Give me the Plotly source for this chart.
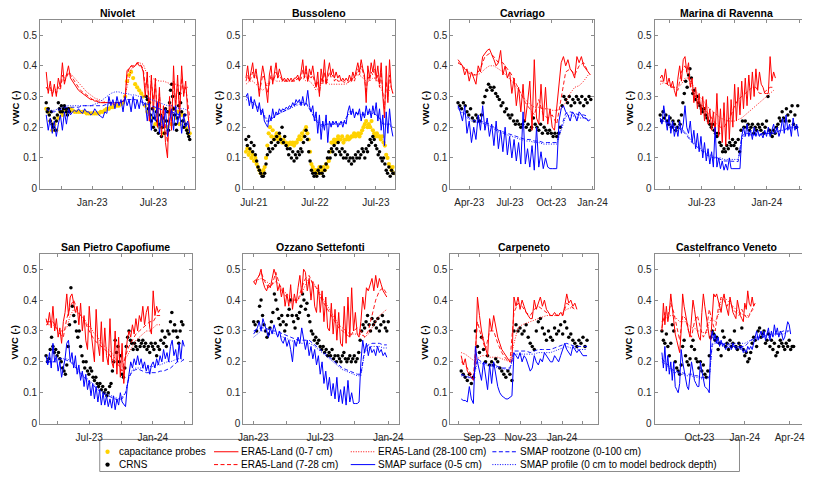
import pandas as pd
import plotly.graph_objects as go

W, H = 816, 478

# ======================= DATA =======================
# --- Nivolet (start 2022-08-17) ---
niv_start = "2022-08-17"
niv_cap = [0.26,0.25,0.22,0.19,0.21,0.19,0.23,0.25,0.24,0.26,0.25,0.26,0.26,
           0.255,0.25,0.25,0.25,0.25,0.25,0.25,0.245,0.245,0.245,0.245,0.245,0.245,0.245,0.25,0.25,
           0.255,0.26,0.26,0.265,0.265,0.27,0.27,0.27,0.275,0.28,0.30,
           0.35,0.37,0.38,0.36,0.34,0.33,0.32,0.31,0.30,
           0.27,0.25,0.28,0.23,0.26,0.21,0.24,0.20,0.22,0.18,0.22,0.20,
           0.25,0.21,0.26,0.23,0.25,0.21,0.24,0.22,0.20,0.19,0.18]
niv_crns_a = [0.28,0.25,0.26,0.24,0.22,0.25,0.21,0.20,0.23,0.19,0.22,0.24,0.28,0.26,0.25,0.27,
              0.25,0.26,0.27,0.26,0.25,0.24,0.26,0.25]
niv_crns_b_start = "2023-06-10"
niv_crns_b = [0.30,0.29,0.26,0.28,0.24,0.22,0.26,0.20,0.23,0.19,0.25,0.22,0.18,0.21,0.24,0.17,
              0.20,0.23,0.18,0.26,0.22,0.25,0.19,0.28,0.32,0.34,0.30,0.26,0.24,0.21,0.19,0.23,
              0.27,0.31,0.28,0.25,0.22,0.20,0.24,0.21,0.19,0.18,0.17,0.16]
niv_e07 = [0.38,0.31,0.35,0.30,0.34,0.30,0.36,0.33,0.41,0.34,0.37,0.40,0.36,0.35,0.34,0.33,0.32,
           0.315,0.31,0.305,0.30,0.295,0.29,0.29,0.285,0.285,0.28,0.28,0.28,0.28,0.28,0.28,0.28,
           0.275,0.275,0.28,0.28,0.28,0.285,0.29,0.385,0.39,0.40,0.395,0.40,0.41,0.40,0.40,0.38,
           0.30,0.38,0.22,0.37,0.25,0.36,0.20,0.33,0.17,0.27,0.15,0.10,0.30,0.19,0.40,0.25,0.37,
           0.23,0.40,0.30,0.35,0.25,0.19]
niv_e728 = [0.33,0.32,0.33,0.31,0.32,0.31,0.33,0.32,0.37,0.35,0.36,0.38,0.37,
            0.36,0.35,0.34,0.33,0.32,0.315,0.31,0.305,0.30,0.295,0.29,0.29,0.285,0.285,0.28,0.28,
            0.28,0.28,0.28,0.28,0.28,0.28,0.28,0.28,0.28,0.285,0.29,
            0.37,0.39,0.40,0.40,0.40,0.41,0.41,0.40,0.39,
            0.33,0.36,0.27,0.35,0.29,0.34,0.25,0.31,0.22,0.26,0.20,0.15,0.26,0.22,0.35,0.28,0.34,
            0.27,0.36,0.31,0.33,0.28,0.23]
niv_e28100 = [0.33,0.32,0.32,0.33,0.35,0.37,0.375,0.36,0.345,0.33,0.315,0.305,0.295,0.29,0.285,
              0.28,0.28,0.28,0.28,0.28,0.33,0.39,0.40,0.41,0.405,0.37,0.36,0.355,0.35,0.35,0.345,
              0.34,0.34,0.335,0.33,0.33]
niv_ss = [0.24,0.19,0.23,0.18,0.22,0.17,0.21,0.24,0.19,0.25,0.21,0.26,0.24,
          0.25,0.255,0.25,0.26,0.25,0.245,0.26,0.25,0.25,0.24,0.245,0.26,
          0.25,0.24,0.235,0.23,0.25,0.245,0.30,0.27,0.29,0.26,0.30,0.27,0.29,0.25,0.30,0.27,
          0.29,0.25,0.30,0.26,0.29,0.26,0.30,0.27,0.28,
          0.22,0.28,0.19,0.26,0.22,0.28,0.18,0.24,0.20,0.26,0.17,0.22,
          0.26,0.19,0.27,0.21,0.25,0.18,0.24,0.20,0.22,0.18]
niv_rz = [0.26,0.25,0.25,0.255,0.26,0.265,0.265,0.265,0.265,0.27,0.27,0.27,0.27,0.27,0.27,0.275,
          0.28,0.28,0.28,0.285,0.29,0.29,0.29,0.285,0.28,0.275,0.27,0.265,0.26,0.255,0.25,0.25,
          0.245,0.24,0.24,0.24]
niv_pr = [0.26,0.255,0.255,0.26,0.265,0.27,0.27,0.27,0.27,0.27,0.27,0.27,0.275,0.28,0.29,0.30,
          0.31,0.315,0.315,0.31,0.31,0.305,0.305,0.30,0.30,0.295,0.29,0.285,0.28,0.275,0.27,0.27,
          0.265,0.26,0.26,0.255]

# --- Bussoleno (start 2021-05-14) ---
bus_start = "2021-05-14"
bus_cap = [0.12,0.13,0.11,0.12,0.10,0.11,0.09,0.10, 0.08,0.07,0.06,0.05,0.05,0.06,0.07,
           0.10,0.14,0.18,0.20,0.17,0.19,0.16,0.17, 0.18,0.16,0.17,0.16,0.15,0.16,0.15,0.15,0.14,
           0.145,0.15,0.145,0.15,0.14,0.15,0.15,0.16, 0.17,0.16,0.18,0.17,0.19,0.20,0.18,0.16,0.12,
           0.08,0.07,0.06,0.06,0.05,0.06,0.07,0.05,0.06,0.07,0.06,0.08,0.07,0.09,0.12,0.15,
           0.15,0.16,0.15,0.16,0.17,0.16,0.16,0.17,0.15,0.16,0.16,0.17,0.16,0.165,0.17,
           0.17,0.18,0.17,0.175,0.18,0.17,0.18,0.19,0.20,0.21,0.22,0.20,
           0.21,0.20,0.22,0.19,0.18,0.17,0.18,0.17,0.17,0.16,0.17,0.15,0.14,
           0.11,0.10,0.08,0.07,0.06,0.07,0.05]
bus_crns = [0.16,0.14,0.17,0.13,0.15,0.12,0.14,0.11, 0.09,0.07,0.06,0.05,0.04,0.04,0.05,
            0.08,0.11,0.13,0.12,0.15,0.13,0.16,0.14, 0.17,0.15,0.18,0.16,0.20,0.15,0.17,0.14,0.13,
            0.11,0.13,0.10,0.12,0.09,0.11,0.10,0.12, 0.11,0.13,0.12,0.15,0.17,0.19,0.16,0.12,0.09,
            0.06,0.05,0.04,0.05,0.04,0.06,0.05,0.07,0.05,0.04,0.06,0.08,0.10,0.12,0.10,0.13,
            0.12,0.14,0.11,0.13,0.15,0.12,0.11,0.13,0.10,0.12,0.10,0.11,0.09,0.10,0.08,
            0.10,0.09,0.11,0.10,0.12,0.10,0.11,0.13,0.12,0.10,0.13,0.12,
            0.14,0.16,0.15,0.17,0.16,0.14,0.13,0.11,0.12,0.10,0.09,0.10,0.08,
            0.06,0.05,0.07,0.04,0.06,0.05,0.05]
bus_e07 = [0.36,0.40,0.35,0.38,0.41,0.36,0.39,0.35,0.30,0.36,0.40,0.37,0.33,0.28,0.37,0.40,0.34,
           0.38,0.41,0.36,0.39,0.37,0.35,0.36,0.35,0.36,0.35,0.36,0.35,0.36,0.36,0.37,0.35,0.38,
           0.42,0.36,0.40,0.35,0.39,0.37,0.40,0.36,0.33,0.38,0.30,0.39,0.35,0.42,0.34,0.38,0.41,
           0.37,0.39,0.36,0.38,0.36,0.37,0.35,0.36,0.35,0.36,0.35,0.37,0.35,0.38,0.36,0.39,0.41,
           0.38,0.42,0.39,0.37,0.28,0.40,0.36,0.41,0.38,0.42,0.36,0.40,0.34,0.41,0.30,0.23,0.40,
           0.28,0.42,0.33,0.31]
bus_e728 = [0.35,0.37,0.35,0.36,0.38,0.36,0.37,0.35,0.32,0.34,0.37,0.36,0.34,0.31,0.34,0.37,0.35,
            0.36,0.38,0.36,0.37,0.36,0.35,0.35,0.35,0.35,0.35,0.35,0.35,0.35,0.35,0.36,0.35,0.36,
            0.39,0.36,0.38,0.35,0.37,0.36,0.37,0.35,0.33,0.35,0.31,0.36,0.34,0.38,0.34,0.36,0.38,
            0.36,0.37,0.35,0.36,0.35,0.35,0.35,0.35,0.345,0.35,0.345,0.35,0.345,0.36,0.35,0.37,
            0.39,0.37,0.40,0.38,0.36,0.31,0.37,0.35,0.38,0.37,0.39,0.35,0.37,0.33,0.38,0.31,0.26,
            0.35,0.29,0.37,0.33,0.31]
bus_e28100 = [0.34,0.35,0.35,0.34,0.33,0.32,0.33,0.35,0.36,0.35,0.35,0.35,0.35,0.35,0.35,0.355,
              0.36,0.36,0.35,0.35,0.34,0.32,0.33,0.35,0.35,0.34,0.34,0.34,0.34,0.34,0.34,0.35,
              0.36,0.37,0.37,0.36,0.35,0.35,0.36,0.36,0.34,0.31,0.30,0.32,0.33]
bus_ss = [0.30,0.31,0.27,0.30,0.26,0.29,0.27,0.25,0.28,0.24,0.26,0.22,0.21,0.20,0.24,0.22,0.26,
          0.23,0.25,0.24,0.26,0.25,0.26,0.255,0.265,0.26,0.27,0.265,0.28,0.27,0.29,0.28,0.29,0.27,
          0.30,0.27,0.28,0.32,0.27,0.25,0.27,0.22,0.25,0.18,0.24,0.16,0.22,0.19,0.24,0.15,0.22,
          0.20,0.22,0.21,0.22,0.20,0.21,0.22,0.20,0.22,0.21,0.25,0.27,0.24,0.26,0.23,0.25,0.24,
          0.26,0.22,0.25,0.23,0.27,0.24,0.26,0.23,0.27,0.24,0.28,0.22,0.26,0.19,0.24,0.14,0.25,
          0.18,0.26,0.20,0.17]
bus_rz = [0.30,0.29,0.28,0.27,0.26,0.25,0.22,0.22,0.23,0.24,0.245,0.25,0.255,0.26,0.27,0.275,
          0.28,0.28,0.28,0.26,0.24,0.22,0.21,0.20,0.21,0.21,0.21,0.21,0.21,0.21,0.23,0.25,0.25,
          0.245,0.245,0.24,0.245,0.25,0.25,0.24,0.23,0.21,0.21,0.21,0.20]
bus_pr = [0.29,0.285,0.28,0.27,0.26,0.25,0.23,0.225,0.23,0.24,0.245,0.25,0.255,0.26,0.265,0.27,
          0.275,0.275,0.275,0.26,0.245,0.225,0.215,0.205,0.21,0.21,0.21,0.21,0.215,0.215,0.23,
          0.245,0.245,0.24,0.24,0.24,0.24,0.245,0.245,0.24,0.23,0.215,0.21,0.205,0.20]

# --- Cavriago (start 2023-03-07) ---
cav_start = "2023-03-07"
cav_crns = [0.28,0.27,0.26,0.28,0.27,0.25,0.24,0.26,0.23,0.22,0.24,0.23,0.22,0.24,0.28,0.30,0.32,
            0.34,0.33,0.32,0.33,0.31,0.30,0.29,0.27,0.28,0.25,0.26,0.24,0.23,0.24,0.22,0.21,0.22,
            0.21,0.20,0.21,0.22,0.20,0.21,0.19,0.20,0.23,0.21,0.20,0.19,0.21,0.18,0.20,0.19,0.18,
            0.19,0.18,0.17,0.18,0.17,0.18,0.20,0.27,0.30,0.29,0.28,0.30,0.27,0.29,0.28,0.30,0.29,
            0.28,0.30,0.27,0.29,0.28,0.30,0.29]
cav_e07 = [0.42,0.41,0.40,0.37,0.39,0.35,0.38,0.36,0.34,0.40,0.38,0.43,0.44,0.45,0.455,0.44,0.42,
           0.40,0.41,0.45,0.37,0.40,0.36,0.38,0.31,0.36,0.27,0.33,0.25,0.34,0.22,0.28,0.35,0.19,
           0.42,0.23,0.21,0.34,0.22,0.33,0.21,0.26,0.20,0.19,0.27,0.35,0.41,0.43,0.40,0.42,0.39,
           0.38,0.36,0.43,0.41,0.43,0.40,0.39,0.38,0.37]
cav_e728 = [0.41,0.40,0.38,0.37,0.37,0.39,0.43,0.44,0.43,0.41,0.41,0.39,0.37,0.34,0.31,0.28,0.26,
            0.24,0.29,0.24,0.23,0.24,0.21,0.30,0.38,0.39,0.37,0.40,0.41,0.38]
cav_e28100 = [0.41,0.40,0.385,0.375,0.37,0.375,0.39,0.40,0.40,0.39,0.38,0.365,0.35,0.33,0.31,0.29,
              0.275,0.265,0.265,0.26,0.26,0.255,0.255,0.26,0.28,0.31,0.33,0.335,0.35,0.37]
cav_ss = [0.27,0.25,0.22,0.27,0.18,0.22,0.15,0.20,0.16,0.24,0.19,0.27,0.19,0.23,0.17,0.21,0.14,0.22,
          0.13,0.19,0.12,0.20,0.11,0.17,0.10,0.16,0.09,0.15,0.08,0.25,0.08,0.13,0.07,0.14,0.06,0.20,
          0.07,0.12,0.065,0.10,0.07,0.065,0.065,0.065,0.065,0.22,0.26,0.27,0.25,0.24,0.22,0.25,0.24,
          0.22,0.25,0.24,0.23,0.23,0.22,0.225]
cav_rz = [0.265,0.25,0.235,0.225,0.22,0.22,0.215,0.21,0.20,0.19,0.185,0.18,0.175,0.17,0.165,0.16,
          0.16,0.155,0.155,0.15,0.15,0.15,0.15,0.20,0.245,0.25,0.245,0.24,0.24,0.235]
cav_pr = [0.26,0.245,0.23,0.22,0.215,0.215,0.21,0.205,0.195,0.185,0.18,0.175,0.17,0.165,0.16,0.155,
          0.155,0.15,0.15,0.145,0.145,0.145,0.145,0.19,0.235,0.24,0.235,0.23,0.23,0.225]

# --- Marina di Ravenna (start 2023-03-06) ---
mar_start = "2023-03-06"
mar_crns = [0.24,0.22,0.25,0.23,0.24,0.22,0.21,0.23,0.20,0.22, 0.21,0.19,0.20,0.22,0.21,0.24,0.28,
            0.31,0.35,0.33, 0.37,0.39,0.36,0.31,0.32,0.29,0.30,0.28,0.27,0.26, 0.25,0.26,0.24,0.23,
            0.22,0.21,0.20,0.21,0.19,0.18, 0.17,0.18,0.15,0.14,0.12,0.13,0.12,0.14,0.13,0.15,
            0.14,0.16,0.14,0.15,0.13,0.16,0.12,0.19,0.22,0.20, 0.22,0.20,0.21,0.19,0.20,0.21,0.18,
            0.20,0.19,0.21, 0.20,0.19,0.21,0.18,0.20,0.22,0.30,0.19,0.18,0.17, 0.19,0.18,0.20,0.21,
            0.23,0.22,0.25,0.23,0.22,0.26, 0.24,0.22,0.25,0.27,0.21,0.24,0.20,0.27]
mar_e07 = [0.36,0.37,0.35,0.39,0.34,0.36,0.33,0.35,0.32,0.30,0.36,0.40,0.35,0.42,0.43,0.38,0.41,0.33,
           0.36,0.28,0.33,0.26,0.31,0.24,0.30,0.22,0.29,0.21,0.26,0.19,0.25,0.18,0.31,0.17,0.26,0.15,
           0.28,0.14,0.30,0.16,0.29,0.20,0.34,0.22,0.33,0.24,0.35,0.26,0.36,0.27,0.37,0.29,0.38,0.30,
           0.39,0.32,0.38,0.34,0.33,0.31,0.31,0.31,0.43,0.35,0.38,0.36]
mar_e728 = [0.35,0.35,0.34,0.33,0.33,0.32,0.38,0.40,0.36,0.32,0.30,0.28,0.27,0.25,0.24,0.22,0.21,
            0.20,0.20,0.22,0.24,0.27,0.29,0.30,0.31,0.32,0.33,0.33,0.31,0.31,0.32,0.33,0.33]
mar_e28100 = [0.34,0.345,0.34,0.335,0.33,0.33,0.34,0.36,0.36,0.34,0.32,0.30,0.29,0.27,0.26,0.25,
              0.24,0.23,0.225,0.22,0.22,0.22,0.225,0.23,0.24,0.25,0.26,0.27,0.28,0.29,0.30,0.31,0.32]
mar_ss = [0.23,0.21,0.27,0.22,0.19,0.24,0.18,0.22,0.17,0.20,0.17,0.22,0.18,0.21,0.27,0.20,0.18,0.22,
          0.15,0.19,0.13,0.18,0.12,0.17,0.10,0.15,0.09,0.13,0.08,0.12,0.07,0.20,0.07,0.10,0.065,0.09,
          0.06,0.08,0.06,0.10,0.065,0.065,0.065,0.065,0.065,0.065,0.17,0.20,0.17,0.21,0.17,0.19,0.16,
          0.20,0.17,0.19,0.17,0.18,0.165,0.19,0.17,0.20,0.17,0.19,0.21,0.18,0.20,0.17,0.19,0.23,0.18,
          0.24,0.19,0.21,0.17,0.23,0.19,0.21,0.17]
mar_rz = [0.22,0.22,0.215,0.21,0.20,0.20,0.19,0.18,0.165,0.15,0.14,0.13,0.12,0.11,0.105,0.10,0.10,
          0.095,0.09,0.09,0.09,0.088,0.088,0.17,0.18,0.18,0.175,0.175,0.175,0.18,0.18,0.18,0.18,
          0.185,0.19,0.19,0.20,0.20,0.20,0.20]
mar_pr = [0.225,0.22,0.215,0.21,0.205,0.20,0.195,0.185,0.17,0.155,0.145,0.135,0.125,0.115,0.11,
          0.105,0.10,0.10,0.095,0.095,0.095,0.095,0.095,0.16,0.175,0.175,0.175,0.175,0.175,0.18,
          0.18,0.18,0.185,0.185,0.19,0.19,0.195,0.195,0.20,0.20]

# --- San Pietro Capofiume (start 2023-02-26) ---
spc_start = "2023-02-26"
spc_crns = [0.22,0.20,0.21,0.24,0.28,0.25,0.23,0.24,0.22,0.23, 0.21,0.20,0.18,0.17,0.16,0.19,0.25,
            0.32,0.44,0.38, 0.35,0.33,0.30,0.28,0.30,0.25,0.22,0.20,0.18,0.20, 0.17,0.16,0.18,0.17,
            0.15,0.14,0.15,0.13,0.12,0.13, 0.11,0.12,0.10,0.11,0.09,0.10,0.12,0.13,0.17,0.20,
            0.27,0.23,0.25,0.20,0.22,0.16,0.15,0.18,0.25,0.28, 0.30,0.27,0.26,0.24,0.26,0.25,0.24,
            0.27,0.25,0.26, 0.27,0.25,0.26,0.24,0.25,0.23,0.26,0.25,0.24,0.26, 0.22,0.25,0.24,0.27,
            0.30,0.26,0.28,0.25,0.30,0.29, 0.33,0.36,0.30,0.32,0.30,0.28,0.26,0.30,0.33,0.32]
spc_e07 = [0.34,0.32,0.36,0.31,0.38,0.30,0.34,0.28,0.31,0.26,0.33,0.36,0.42,0.35,0.41,0.42,0.39,0.36,
           0.38,0.32,0.39,0.30,0.35,0.27,0.24,0.38,0.30,0.24,0.20,0.37,0.26,0.22,0.33,0.20,0.31,0.22,
           0.19,0.34,0.20,0.18,0.30,0.16,0.28,0.15,0.26,0.13,0.22,0.27,0.30,0.28,0.32,0.29,0.34,0.30,
           0.35,0.33,0.38,0.32,0.36,0.38,0.31,0.29,0.43,0.35,0.38,0.36,0.37]
spc_e728 = [0.33,0.33,0.33,0.31,0.29,0.28,0.34,0.38,0.40,0.37,0.35,0.34,0.31,0.29,0.27,0.26,0.25,
            0.24,0.23,0.21,0.20,0.19,0.17,0.22,0.25,0.27,0.29,0.30,0.31,0.32,0.33,0.33,0.35,0.35]
spc_e28100 = [0.32,0.32,0.32,0.31,0.30,0.30,0.31,0.35,0.37,0.36,0.35,0.34,0.32,0.31,0.29,0.28,0.26,
              0.25,0.24,0.23,0.21,0.20,0.20,0.21,0.23,0.25,0.27,0.28,0.29,0.30,0.30,0.31,0.32,0.32]
spc_ss = [0.22,0.19,0.23,0.18,0.26,0.20,0.22,0.17,0.20,0.15,0.18,0.21,0.26,0.27,0.20,0.23,0.18,0.22,
          0.16,0.19,0.14,0.17,0.12,0.16,0.11,0.14,0.09,0.13,0.08,0.12,0.07,0.11,0.06,0.10,0.06,0.09,
          0.055,0.08,0.05,0.09,0.045,0.08,0.06,0.10,0.07,0.06,0.055,0.12,0.17,0.20,0.18,0.21,0.19,
          0.22,0.19,0.21,0.18,0.20,0.17,0.19,0.16,0.19,0.20,0.18,0.21,0.19,0.22,0.20,0.24,0.21,0.23,
          0.20,0.25,0.27,0.22,0.24,0.20,0.26,0.21,0.27,0.25]
spc_rz = [0.20,0.20,0.20,0.20,0.21,0.21,0.205,0.20,0.19,0.175,0.16,0.15,0.14,0.13,0.12,0.11,0.10,
          0.095,0.09,0.085,0.08,0.075,0.08,0.10,0.15,0.17,0.175,0.175,0.17,0.165,0.165,0.165,0.165,
          0.17,0.17,0.175,0.18,0.19,0.20,0.20,0.21]
spc_pr = [0.20,0.20,0.20,0.205,0.21,0.21,0.21,0.205,0.195,0.18,0.165,0.155,0.145,0.135,0.125,0.115,
          0.105,0.10,0.095,0.09,0.085,0.08,0.085,0.10,0.15,0.175,0.18,0.18,0.18,0.18,0.185,0.185,
          0.19,0.19,0.195,0.20,0.20,0.205,0.21,0.21,0.205]

# --- Ozzano Settefonti (start 2023-01-02) ---
ozz_start = "2023-01-02"
ozz_crns = [0.33,0.32,0.30,0.33,0.38,0.40,0.35,0.32,0.30,0.28, 0.29,0.31,0.33,0.36,0.42,0.40,0.37,
            0.34,0.32,0.35, 0.33,0.30,0.32,0.35,0.37,0.40,0.35,0.33,0.31,0.35, 0.34,0.36,0.38,0.42,
            0.40,0.37,0.39,0.35,0.33,0.30, 0.29,0.27,0.28,0.26,0.27,0.25,0.24,0.25,0.23,0.24,
            0.22,0.23,0.22,0.24,0.21,0.22,0.20,0.22,0.21,0.20, 0.22,0.23,0.21,0.20,0.21,0.22,0.20,
            0.21,0.22,0.20, 0.21,0.23,0.27,0.30,0.32,0.31,0.33,0.35,0.32,0.30, 0.34,0.32,0.33,0.31,
            0.34,0.30,0.32,0.35,0.33,0.31,0.30,0.33]
ozz_e07 = [0.46,0.45,0.47,0.48,0.50,0.46,0.44,0.43,0.45,0.44,0.47,0.50,0.48,0.43,0.45,0.41,0.44,0.38,
           0.42,0.38,0.45,0.37,0.42,0.39,0.44,0.48,0.42,0.50,0.49,0.43,0.47,0.40,0.46,0.38,0.36,0.45,
           0.36,0.43,0.33,0.41,0.31,0.30,0.39,0.29,0.37,0.27,0.36,0.26,0.25,0.38,0.26,0.41,0.28,0.44,
           0.30,0.36,0.29,0.28,0.33,0.41,0.37,0.44,0.43,0.45,0.47,0.43,0.48,0.44,0.47,0.45,0.43,0.42,
           0.41]
ozz_e728 = [0.46,0.47,0.49,0.46,0.44,0.45,0.49,0.45,0.42,0.41,0.39,0.40,0.40,0.44,0.47,0.48,0.45,
            0.44,0.41,0.39,0.37,0.35,0.33,0.31,0.30,0.29,0.28,0.30,0.31,0.30,0.28,0.30,0.35,0.40,
            0.43,0.44,0.42]
ozz_e28100 = [0.46,0.465,0.47,0.465,0.455,0.45,0.46,0.45,0.43,0.42,0.41,0.40,0.40,0.42,0.45,0.47,
              0.46,0.44,0.42,0.40,0.38,0.36,0.34,0.32,0.31,0.30,0.29,0.29,0.29,0.29,0.28,0.29,0.31,
              0.33,0.35,0.36,0.37]
ozz_ss = [0.29,0.30,0.31,0.33,0.30,0.34,0.32,0.30,0.28,0.31,0.29,0.32,0.30,0.28,0.30,0.27,0.26,0.28,
          0.25,0.27,0.24,0.20,0.27,0.25,0.28,0.26,0.31,0.27,0.24,0.27,0.22,0.25,0.21,0.24,0.19,0.22,
          0.16,0.20,0.13,0.17,0.11,0.15,0.09,0.13,0.08,0.15,0.07,0.11,0.065,0.12,0.06,0.14,0.07,0.10,
          0.065,0.065,0.065,0.07,0.20,0.27,0.23,0.26,0.22,0.25,0.23,0.24,0.22,0.25,0.23,0.24,0.22,
          0.23,0.215]
ozz_rz = [0.30,0.305,0.31,0.31,0.305,0.30,0.30,0.295,0.29,0.285,0.28,0.275,0.27,0.27,0.27,0.27,0.26,
          0.25,0.24,0.23,0.22,0.21,0.20,0.19,0.18,0.175,0.17,0.165,0.16,0.16,0.24,0.255,0.26,0.26,
          0.26,0.255,0.255]
ozz_pr = [0.28,0.29,0.30,0.30,0.30,0.295,0.29,0.285,0.28,0.275,0.27,0.265,0.26,0.26,0.26,0.26,0.255,
          0.245,0.235,0.225,0.215,0.205,0.195,0.185,0.175,0.17,0.165,0.16,0.155,0.155,0.23,0.245,
          0.25,0.25,0.25,0.245,0.245]

# --- Carpeneto (start 2023-08-05) ---
car_start = "2023-08-05"
car_crns = [0.17,0.16,0.15,0.14,0.16,0.13,0.15,0.30,0.25,0.23, 0.28,0.24,0.20,0.22,0.19,0.20,0.19,
            0.21,0.20,0.18, 0.17,0.16,0.15,0.17,0.16,0.14,0.30,0.32,0.30,0.31, 0.29,0.30,0.32,0.28,
            0.26,0.25,0.24,0.30,0.33,0.34, 0.31,0.29,0.27,0.30,0.28,0.27,0.31,0.29,0.30,0.32,
            0.29,0.33,0.31,0.28,0.29,0.27,0.26,0.25,0.27,0.26, 0.28,0.25,0.27]
car_e07 = [0.22,0.19,0.21,0.17,0.16,0.15,0.14,0.20,0.41,0.35,0.30,0.27,0.24,0.22,0.34,0.30,0.35,0.31,
           0.28,0.26,0.24,0.23,0.22,0.21,0.20,0.20,0.41,0.38,0.41,0.37,0.40,0.38,0.36,0.35,0.34,0.34,
           0.40,0.37,0.39,0.41,0.38,0.40,0.37,0.36,0.35,0.35,0.36,0.35,0.35,0.36,0.35,0.38,0.42,0.39,
           0.40,0.38,0.39,0.37]
car_e728 = [0.20,0.19,0.17,0.15,0.33,0.28,0.24,0.30,0.30,0.26,0.23,0.21,0.20,0.36,0.39,0.38,0.36,
            0.35,0.37,0.38,0.37,0.36,0.35,0.35,0.35,0.35,0.39,0.38,0.37]
car_e28100 = [0.23,0.225,0.215,0.205,0.21,0.22,0.22,0.215,0.215,0.215,0.21,0.205,0.20,0.26,0.31,
              0.32,0.325,0.33,0.335,0.34,0.345,0.35,0.35,0.35,0.355,0.36,0.37,0.375,0.375]
car_ss = [0.08,0.075,0.075,0.07,0.12,0.08,0.065,0.25,0.20,0.17,0.14,0.20,0.15,0.11,0.19,0.13,0.20,
          0.16,0.12,0.10,0.09,0.085,0.08,0.08,0.085,0.09,0.23,0.22,0.21,0.23,0.20,0.22,0.21,0.19,
          0.17,0.18,0.22,0.20,0.19,0.21,0.20,0.23,0.22,0.21,0.20,0.20,0.22,0.21,0.20,0.22,0.24,0.26,
          0.24,0.23,0.22,0.25,0.24,0.23,0.24,0.23,0.22,0.22,0.22]
car_rz = [0.16,0.155,0.15,0.15,0.21,0.20,0.195,0.19,0.19,0.185,0.18,0.18,0.18,0.235,0.235,0.235,
          0.235,0.23,0.235,0.24,0.24,0.24,0.24,0.245,0.25,0.255,0.26,0.255,0.25,0.25,0.25,0.25]
car_pr = [0.155,0.15,0.148,0.145,0.20,0.195,0.19,0.185,0.185,0.18,0.18,0.175,0.175,0.225,0.225,
          0.225,0.225,0.225,0.225,0.23,0.23,0.23,0.23,0.235,0.24,0.245,0.25,0.245,0.245,0.24,0.24,0.24]

# --- Castelfranco Veneto (start 2023-07-17) ---
cfv_start = "2023-07-17"
cfv_crns = [0.30,0.27,0.26,0.29,0.25,0.22,0.26,0.32,0.30,0.20, 0.18,0.17,0.16,0.19,0.25,0.27,0.22,
            0.20,0.19,0.21, 0.25,0.27,0.24,0.21,0.20,0.18,0.20,0.17,0.19,0.16, 0.15,0.17,0.22,0.28,
            0.30,0.29,0.27,0.28,0.24,0.26, 0.22,0.30,0.28,0.25,0.26,0.24,0.27,0.25,0.26,0.30,
            0.25,0.24,0.26,0.25,0.31,0.24,0.22,0.23,0.20,0.21, 0.23,0.26,0.28,0.27,0.25,0.30,0.31,
            0.28,0.29,0.30, 0.26,0.27,0.29,0.25,0.27,0.24,0.26,0.22,0.23,0.25, 0.27,0.26,0.25,0.24,
            0.26,0.25,0.27,0.24,0.25,0.25]
cfv_e07 = [0.30,0.39,0.32,0.38,0.33,0.36,0.42,0.37,0.33,0.29,0.27,0.25,0.23,0.30,0.42,0.38,0.35,0.32,
           0.30,0.28,0.36,0.40,0.37,0.33,0.30,0.28,0.27,0.36,0.42,0.38,0.34,0.30,0.28,0.27,0.37,0.42,
           0.41,0.42,0.40,0.38,0.36,0.40,0.42,0.39,0.37,0.35,0.41,0.38,0.36,0.35,0.34,0.40,0.37,0.35,
           0.34,0.33,0.39,0.37,0.43,0.39,0.38,0.41,0.38,0.39]
cfv_e728 = [0.31,0.36,0.35,0.39,0.36,0.31,0.27,0.35,0.34,0.30,0.28,0.33,0.35,0.31,0.28,0.30,0.37,
            0.33,0.30,0.37,0.41,0.40,0.38,0.40,0.37,0.36,0.35,0.37,0.35,0.34,0.36,0.38]
cfv_e28100 = [0.33,0.34,0.345,0.35,0.35,0.34,0.33,0.33,0.33,0.32,0.31,0.31,0.30,0.30,0.295,0.29,
              0.33,0.34,0.33,0.35,0.40,0.41,0.40,0.39,0.38,0.37,0.36,0.355,0.35,0.35,0.36,0.37]
cfv_ss = [0.23,0.18,0.25,0.17,0.22,0.16,0.20,0.14,0.20,0.12,0.11,0.10,0.13,0.24,0.20,0.17,0.14,0.12,
          0.11,0.15,0.20,0.17,0.14,0.13,0.12,0.12,0.20,0.17,0.14,0.12,0.115,0.11,0.10,0.27,0.30,0.27,
          0.29,0.26,0.28,0.25,0.27,0.25,0.26,0.24,0.25,0.245,0.25,0.24,0.26,0.25,0.24,0.245,0.25,0.24,
          0.25,0.23,0.24,0.23,0.25,0.24,0.25,0.24,0.26,0.28,0.30,0.27,0.29,0.30,0.28,0.30,0.27,0.29,
          0.31,0.27,0.30,0.28,0.32,0.29,0.31,0.28,0.30,0.29,0.27,0.28,0.30,0.33,0.32,0.29]
cfv_rz = [0.21,0.20,0.19,0.18,0.17,0.17,0.165,0.165,0.16,0.16,0.16,0.155,0.155,0.15,0.15,0.15,0.15,
          0.26,0.265,0.26,0.26,0.255,0.255,0.255,0.25,0.25,0.25,0.25,0.25,0.26,0.27,0.275,0.28,0.28,
          0.28,0.285,0.285,0.29,0.29,0.29,0.295,0.30,0.30,0.30]
cfv_pr = [0.20,0.195,0.185,0.175,0.165,0.165,0.16,0.16,0.155,0.155,0.155,0.15,0.15,0.145,0.145,
          0.145,0.145,0.255,0.26,0.26,0.26,0.26,0.26,0.26,0.26,0.26,0.26,0.26,0.26,0.265,0.27,0.27,
          0.275,0.275,0.28,0.28,0.28,0.285,0.285,0.29,0.29,0.29,0.295,0.30]

# ======================= LAYOUT SPEC =======================
FONT = "Liberation Sans, Arial, Helvetica, sans-serif"
RED, BLUE, GOLD, BLACK = "#ff0000", "#0000ff", "#ffd200", "#000000"
AXC = "#8c8c8c"
DASH, DOT = "4px,2.5px", "1px,1.5px"

panels = [
    dict(title="Nivolet", box=(36, 195, 20, 191), xr=("2022-07-30", "2023-11-03"),
         ticks=[("2022-10-01", ""), ("2023-01-01", "Jan-23"), ("2023-04-01", ""),
                ("2023-07-01", "Jul-23"), ("2023-10-01", "")],
         cap=[(niv_start, 6, niv_cap)],
         crns=[(niv_start, 3, niv_crns_a), (niv_crns_b_start, 3, niv_crns_b)],
         e07=(niv_start, 6, niv_e07), e728=(niv_start, 6, niv_e728), e28100=(niv_start, 12, niv_e28100),
         ss=(niv_start, 6, niv_ss), rz=(niv_start, 12, niv_rz), pr=(niv_start, 12, niv_pr)),
    dict(title="Bussoleno", box=(244, 399, 20, 191), xr=("2021-04-28", "2023-10-22"),
         ticks=[("2021-07-01", "Jul-21"), ("2022-01-01", ""), ("2022-07-01", "Jul-22"),
                ("2023-01-01", ""), ("2023-07-01", "Jul-23")],
         cap=[(bus_start, 8, bus_cap)], crns=[(bus_start, 8, bus_crns)],
         e07=(bus_start, 10, bus_e07), e728=(bus_start, 10, bus_e728), e28100=(bus_start, 20, bus_e28100),
         ss=(bus_start, 10, bus_ss), rz=(bus_start, 20, bus_rz), pr=(bus_start, 20, bus_pr)),
    dict(title="Cavriago", box=(456, 603, 20, 191), xr=("2023-02-18", "2024-01-04"),
         ticks=[("2023-04-01", "Apr-23"), ("2023-07-01", "Jul-23"), ("2023-10-01", "Oct-23"),
                ("2024-01-01", "Jan-24")],
         cap=[], crns=[(cav_start, 4, cav_crns)],
         e07=(cav_start, 5, cav_e07), e728=(cav_start, 10, cav_e728), e28100=(cav_start, 10, cav_e28100),
         ss=(cav_start, 5, cav_ss), rz=(cav_start, 10, cav_rz), pr=(cav_start, 10, cav_pr)),
    dict(title="Marina di Ravenna", box=(665, 816, 20, 191), xr=("2023-02-18", "2024-04-09"),
         ticks=[("2023-04-01", ""), ("2023-07-01", "Jul-23"), ("2023-10-01", ""),
                ("2024-01-01", "Jan-24"), ("2024-04-01", "")],
         cap=[], crns=[(mar_start, 4, mar_crns)],
         e07=(mar_start, 5, mar_e07), e728=(mar_start, 10, mar_e728), e28100=(mar_start, 10, mar_e28100),
         ss=(mar_start, 5, mar_ss), rz=(mar_start, 10, mar_rz), pr=(mar_start, 10, mar_pr)),
    dict(title="San Pietro Capofiume", box=(36, 191, 257, 429), xr=("2023-02-09", "2024-04-22"),
         ticks=[("2023-04-01", ""), ("2023-07-01", "Jul-23"), ("2023-10-01", ""),
                ("2024-01-01", "Jan-24"), ("2024-04-01", "")],
         cap=[], crns=[(spc_start, 4, spc_crns)],
         e07=(spc_start, 5, spc_e07), e728=(spc_start, 10, spc_e728), e28100=(spc_start, 10, spc_e28100),
         ss=(spc_start, 5, spc_ss), rz=(spc_start, 10, spc_rz), pr=(spc_start, 10, spc_pr)),
    dict(title="Ozzano Settefonti", box=(244, 403, 257, 429), xr=("2022-12-05", "2024-01-29"),
         ticks=[("2023-01-01", "Jan-23"), ("2023-04-01", ""), ("2023-07-01", "Jul-23"),
                ("2023-10-01", ""), ("2024-01-01", "Jan-24")],
         cap=[], crns=[(ozz_start, 4, ozz_crns)],
         e07=(ozz_start, 5, ozz_e07), e728=(ozz_start, 10, ozz_e728), e28100=(ozz_start, 10, ozz_e28100),
         ss=(ozz_start, 5, ozz_ss), rz=(ozz_start, 10, ozz_rz), pr=(ozz_start, 10, ozz_pr)),
    dict(title="Carpeneto", box=(456, 607, 257, 429), xr=("2023-07-20", "2024-02-23"),
         ticks=[("2023-08-01", ""), ("2023-09-01", "Sep-23"), ("2023-10-01", ""),
                ("2023-11-01", "Nov-23"), ("2023-12-01", ""), ("2024-01-01", "Jan-24"),
                ("2024-02-01", "")],
         cap=[], crns=[(car_start, 3, car_crns)],
         e07=(car_start, 3, car_e07), e728=(car_start, 6, car_e728), e28100=(car_start, 6, car_e28100),
         ss=(car_start, 3, car_ss), rz=(car_start, 6, car_rz), pr=(car_start, 6, car_pr)),
    dict(title="Castelfranco Veneto", box=(665, 816, 257, 429), xr=("2023-07-02", "2024-04-26"),
         ticks=[("2023-10-01", "Oct-23"), ("2024-01-01", "Jan-24"), ("2024-04-01", "Apr-24")],
         cap=[], crns=[(cfv_start, 3, cfv_crns)],
         e07=(cfv_start, 3, cfv_e07), e728=(cfv_start, 6, cfv_e728), e28100=(cfv_start, 6, cfv_e28100),
         ss=(cfv_start, 3, cfv_ss), rz=(cfv_start, 6, cfv_rz), pr=(cfv_start, 6, cfv_pr)),
]

line_styles = [  # drawn in this order
    ("e28100", RED, DOT, 0.9), ("e728", RED, DASH, 0.9), ("e07", RED, "solid", 1.0),
    ("pr", BLUE, DOT, 0.9), ("rz", BLUE, DASH, 0.9), ("ss", BLUE, "solid", 1.0),
]


def dates(start, step, n):
    return pd.date_range(start=start, periods=n, freq=f"{step}D")


fig = go.Figure()
annotations = []
layout_axes = {}

for k, p in enumerate(panels, start=1):
    xa, ya = f"x{k}" if k > 1 else "x", f"y{k}" if k > 1 else "y"
    l, r, t, b = p["box"]
    right_col = r >= W

    for (st, stp, vals) in p["cap"]:
        fig.add_trace(go.Scatter(x=dates(st, stp, len(vals)), y=vals, mode="markers",
                                 marker=dict(color=GOLD, size=4.2, line=dict(width=0)),
                                 xaxis=xa, yaxis=ya, showlegend=False, hoverinfo="skip"))
    for (st, stp, vals) in p["crns"]:
        fig.add_trace(go.Scatter(x=dates(st, stp, len(vals)), y=vals, mode="markers",
                                 marker=dict(color=BLACK, size=3.5, line=dict(width=0)),
                                 xaxis=xa, yaxis=ya, showlegend=False, hoverinfo="skip"))
    for key, col, dash, wd in line_styles:
        st, stp, vals = p[key]
        fig.add_trace(go.Scatter(x=dates(st, stp, len(vals)), y=vals, mode="lines",
                                 line=dict(color=col, width=wd, dash=dash),
                                 xaxis=xa, yaxis=ya, showlegend=False, hoverinfo="skip"))

    xkey = "xaxis" if k == 1 else f"xaxis{k}"
    ykey = "yaxis" if k == 1 else f"yaxis{k}"
    layout_axes[xkey] = dict(
        domain=[l / W, min(r / W, 1.0)], anchor=ya, type="date", range=list(p["xr"]),
        tickmode="array", tickvals=[v for v, _ in p["ticks"]], ticktext=[s for _, s in p["ticks"]],
        ticks="inside", ticklen=3, tickwidth=1, tickcolor=AXC, showline=True, linecolor=AXC,
        linewidth=1, mirror="ticks", showgrid=False, zeroline=False, ticklabelstandoff=4,
        tickfont=dict(family=FONT, size=10, color="#262626"), fixedrange=True)
    layout_axes[ykey] = dict(
        domain=[1 - b / H, 1 - t / H], anchor=xa, range=[0, 0.55],
        tickmode="array", tickvals=[0, 0.1, 0.2, 0.3, 0.4, 0.5],
        ticktext=["0", "0.1", "0.2", "0.3", "0.4", "0.5"],
        ticks="inside", ticklen=3, tickwidth=1, tickcolor=AXC, showline=True, linecolor=AXC,
        linewidth=1, mirror=False if right_col else "ticks", showgrid=False, zeroline=False,
        tickfont=dict(family=FONT, size=10, color="#262626"), fixedrange=True)

    # panel title
    cx = (l + r) / 2 if not right_col else (l + 812) / 2
    annotations.append(dict(text=f"<b>{p['title']}</b>", x=cx / W, y=1 - (t - 7) / H,
                            xref="paper", yref="paper", xanchor="center", yanchor="middle",
                            showarrow=False, font=dict(family=FONT, size=10.5, color="#000000")))
    # y-axis label
    annotations.append(dict(text="<b>VWC (-)</b>", x=(l - 26) / W, y=1 - ((t + b) / 2 + 4) / H,
                            xref="paper", yref="paper", xanchor="center", yanchor="middle",
                            textangle=-90, showarrow=False,
                            font=dict(family=FONT, size=9.5, color="#000000")))

# ---------------- legend (drawn as a 4 x 2 grid, as in the reference) ----------------
shapes = []


def px(x):
    return x / W


def py(y):
    return 1 - y / H


ROW1, ROW2 = 457.5, 470.5
shapes.append(dict(type="rect", xref="paper", yref="paper", x0=px(97), x1=px(752),
                   y0=py(477.5), y1=py(445), line=dict(color=AXC, width=1), fillcolor="white",
                   layer="below"))
legend_entries = [
    ("marker", GOLD, None, ROW1, "capacitance probes", 105, 116),
    ("marker", BLACK, None, ROW2, "CRNS", 105, 116),
    ("line", RED, "solid", ROW1, "ERA5-Land (0-7 cm)", 214, 241),
    ("line", RED, DASH, ROW2, "ERA5-Land (7-28 cm)", 214, 241),
    ("line", RED, DOT, ROW1, "ERA5-Land (28-100 cm)", 354, 381),
    ("line", BLUE, "solid", ROW2, "SMAP surface (0-5 cm)", 354, 381),
    ("line", BLUE, DASH, ROW1, "SMAP rootzone (0-100 cm)", 499, 526),
    ("line", BLUE, DOT, ROW2, "SMAP profile (0 cm to model bedrock depth)", 499, 526),
]
for kind, col, dash, yy, label, x0, xt in legend_entries:
    if kind == "marker":
        shapes.append(dict(type="circle", xref="paper", yref="paper", x0=px(x0 - 2.2), x1=px(x0 + 2.2),
                           y0=py(yy + 2.2), y1=py(yy - 2.2), fillcolor=col, line=dict(width=0)))
    else:
        shapes.append(dict(type="line", xref="paper", yref="paper", x0=px(x0), x1=px(x0 + 25),
                           y0=py(yy), y1=py(yy), line=dict(color=col, width=1, dash=dash)))
    annotations.append(dict(text=label, x=px(xt), y=py(yy), xref="paper", yref="paper",
                            xanchor="left", yanchor="middle", showarrow=False, borderpad=0,
                            font=dict(family=FONT, size=10, color="#000000")))

fig.update_layout(
    width=W, height=H, margin=dict(l=0, r=0, t=0, b=0, pad=0),
    paper_bgcolor="white", plot_bgcolor="white", showlegend=False,
    font=dict(family=FONT, size=10, color="#262626"),
    annotations=annotations, shapes=shapes, **layout_axes)

# remove the browser's default page margin so the 816x478 figure fills the window exactly
page_fix = ("document.documentElement.style.margin='0';document.documentElement.style.padding='0';"
            "document.documentElement.style.overflow='hidden';"
            "document.body.style.margin='0';document.body.style.padding='0';"
            "document.body.style.overflow='hidden';")
fig.write_html("out.html", include_plotlyjs=True, config={"displayModeBar": False},
               post_script=page_fix)
